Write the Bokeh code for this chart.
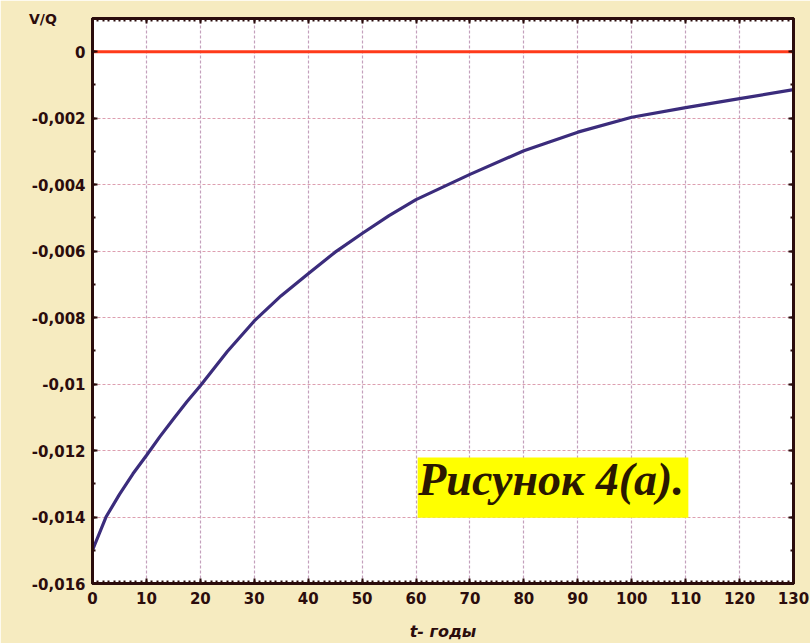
from bokeh.plotting import figure
from bokeh.models import (Range1d, SingleIntervalTicker, LinearAxis, Label,
                          BoxAnnotation, CustomLabelingPolicy)
from bokeh.embed import file_html
from bokeh.resources import INLINE

# ---- data ----
t_years = [0, 2.5, 5, 7.5, 10, 12.5, 15, 17.5, 20, 25, 30, 35, 40, 45, 50,
           55, 60, 70, 80, 90, 100, 110, 120, 130]
v_over_q = [-0.0150, -0.0140, -0.01332, -0.01270, -0.01215, -0.01158,
            -0.01105, -0.01053, -0.01005, -0.00902, -0.0081, -0.00734,
            -0.00668, -0.00603, -0.00547, -0.00493, -0.00445, -0.00369,
            -0.00298, -0.00242, -0.00197, -0.00168, -0.00141, -0.00114]
zero_t = [0, 130]
zero_v = [0, 0]

x_ticks = [0, 10, 20, 30, 40, 50, 60, 70, 80, 90, 100, 110, 120, 130]
y_ticks = [0, -0.002, -0.004, -0.006, -0.008, -0.010, -0.012, -0.014, -0.016]
y_tick_labels = ["0", "-0,002", "-0,004", "-0,006", "-0,008", "-0,01",
                 "-0,012", "-0,014", "-0,016"]

x_title = "t- годы"
y_title = "V/Q"
caption = "Рисунок 4(а)."

INK = "#2b0c0c"
BG = "#f6ebc0"

p = figure(width=810, height=643, output_backend="svg", toolbar_location=None,
           x_range=Range1d(0, 130), y_range=Range1d(-0.016, 0.001),
           min_border_left=92, min_border_right=17, min_border_top=18,
           min_border_bottom=60, x_axis_location=None, y_axis_location=None)
p.background_fill_color = "white"
p.border_fill_color = BG
p.outline_line_color = INK
p.outline_line_width = 3

no_labels = CustomLabelingPolicy(code="""
try {
  const n = indices.size
  for (let i = 0; i < n; i++) indices.unset(i)
  return indices
} catch (e) {
  return new indices.constructor(indices.size)
}
""")

def style_axis(ax, labels=True):
    ax.axis_line_color = INK
    ax.axis_line_width = 3
    ax.major_tick_in = 5
    ax.major_tick_out = 0
    ax.minor_tick_in = 3
    ax.minor_tick_out = 0
    ax.major_tick_line_color = INK
    ax.minor_tick_line_color = INK
    ax.major_tick_line_width = 2
    ax.minor_tick_line_width = 2
    if labels:
        ax.major_label_text_font = "DejaVu Sans"
        ax.major_label_text_font_style = "bold"
        ax.major_label_text_font_size = "15px"
        ax.major_label_text_color = INK
    else:
        ax.major_label_policy = no_labels
        ax.major_label_text_font_size = "1px"
        ax.major_label_standoff = 0

xt = SingleIntervalTicker(interval=10, num_minor_ticks=10)
yt = SingleIntervalTicker(interval=0.002, num_minor_ticks=2)

bottom = LinearAxis(ticker=xt)
style_axis(bottom)
bottom.major_label_standoff = 8
bottom.axis_label = x_title
bottom.axis_label_text_font = "DejaVu Sans"
bottom.axis_label_text_font_style = "bold italic"
bottom.axis_label_text_font_size = "16px"
bottom.axis_label_text_color = INK
bottom.axis_label_standoff = 15
p.add_layout(bottom, "below")

left = LinearAxis(ticker=yt)
style_axis(left)
left.major_label_standoff = 7
left.major_label_overrides = {v: s for v, s in zip(y_ticks, y_tick_labels)}
left.axis_label = y_title
left.axis_label_orientation = "horizontal"
left.axis_label_align = "end"
left.axis_label_text_baseline = "top"
left.axis_label_standoff = -28
left.axis_label_text_font = "DejaVu Sans"
left.axis_label_text_font_style = "bold"
left.axis_label_text_font_size = "14px"
left.axis_label_text_color = INK
p.add_layout(left, "left")

top = LinearAxis(ticker=SingleIntervalTicker(interval=10, num_minor_ticks=10))
style_axis(top, labels=False)
p.add_layout(top, "above")

right = LinearAxis(ticker=SingleIntervalTicker(interval=0.002, num_minor_ticks=2))
style_axis(right, labels=False)
p.add_layout(right, "right")

p.xgrid.ticker = xt
p.ygrid.ticker = yt
p.xgrid.grid_line_color = "#c4a0bc"
p.ygrid.grid_line_color = "#dd9fb0"
p.xgrid.grid_line_dash = "3 2"
p.ygrid.grid_line_dash = "3 2"
p.xgrid.grid_line_width = 1.2
p.ygrid.grid_line_width = 1.2

p.line(zero_t, zero_v, line_color="#ff3a1a", line_width=3)
p.line(t_years, v_over_q, line_color="#3b2c7c", line_width=3.2)

p.add_layout(BoxAnnotation(left=60.3, right=110.5, top=-0.01221, bottom=-0.01402,
                           fill_color="#ffff00", fill_alpha=1, line_color=None))
p.add_layout(Label(x=60.4, y=-0.01287, text=caption, text_align="left",
                   text_baseline="alphabetic", text_font="Liberation Serif",
                   text_font_style="bold italic", text_font_size="46px",
                   text_color="#2a1800"))

open("out.html", "w").write(file_html(p, INLINE))
